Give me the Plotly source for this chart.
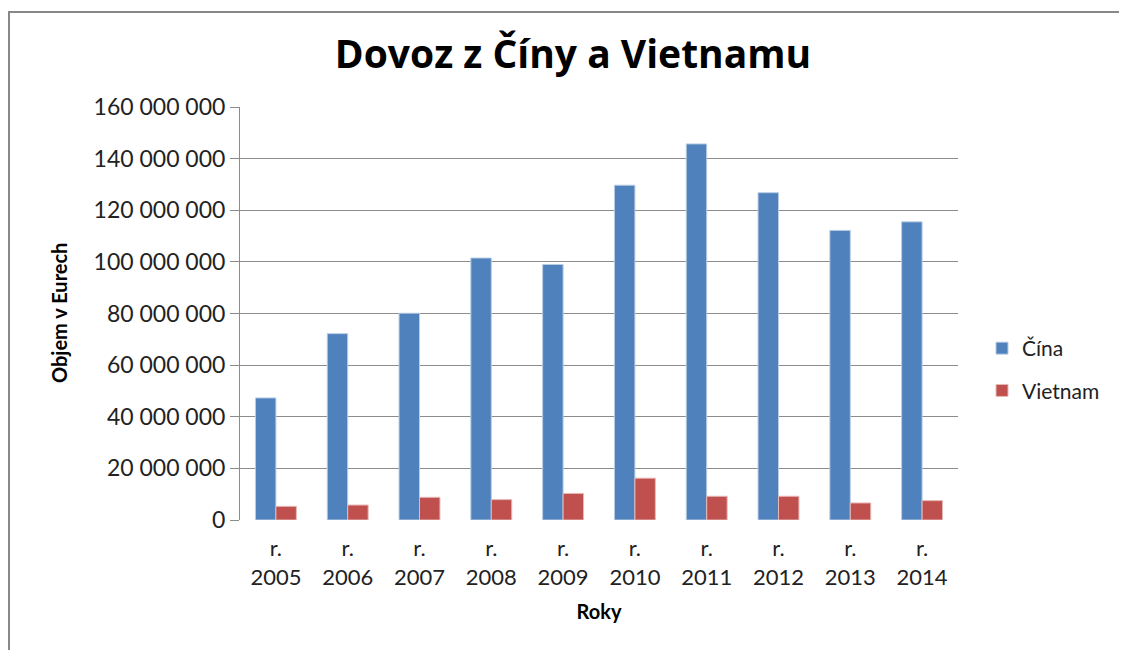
import plotly.graph_objects as go

categories = ["r.<br>2005", "r.<br>2006", "r.<br>2007", "r.<br>2008", "r.<br>2009",
              "r.<br>2010", "r.<br>2011", "r.<br>2012", "r.<br>2013", "r.<br>2014"]
cina = [47_300_000, 72_200_000, 80_100_000, 101_500_000, 99_000_000,
        129_700_000, 145_700_000, 126_800_000, 112_200_000, 115_500_000]
vietnam = [5_300_000, 5_800_000, 8_800_000, 7_900_000, 10_300_000,
           16_200_000, 9_200_000, 9_200_000, 6_600_000, 7_500_000]
y_ticks = [0, 20_000_000, 40_000_000, 60_000_000, 80_000_000,
           100_000_000, 120_000_000, 140_000_000, 160_000_000]
y_ticktext = ["{:,}".format(v).replace(",", " ") for v in y_ticks]

FONT = "Lato"
# page body has an 8px margin; figure is sized to fit the window
W, H = 1119, 642
L, R, T, B = 232, 169, 99, 130
pw, ph = W - L - R, H - T - B

fig = go.Figure()
fig.add_trace(go.Bar(name="Čína", x=categories, y=cina, legendgroup="a",
                     marker=dict(color="#4F81BD", line=dict(color="#B9CDE5", width=1))))
fig.add_trace(go.Bar(name="Vietnam", x=categories, y=vietnam, legendgroup="b",
                     marker=dict(color="#C0504D", line=dict(color="#E6B9B8", width=1))))

def px_x(p):
    return (p - L) / pw

def px_y(p):
    return (H - B - p) / ph

fig.update_layout(
    width=W, height=H,
    margin=dict(l=L, r=R, t=T, b=B),
    paper_bgcolor="white", plot_bgcolor="white",
    barmode="group", bargap=0.43, bargroupgap=0,
    font=dict(family=FONT, color="#222222"),
    title=dict(text="<b>Dovoz z Číny a Vietnamu</b>", x=565 / W, xanchor="center",
               y=1 - 46 / H, yanchor="middle",
               font=dict(size=39, color="black", family="Open Sans")),
    xaxis=dict(showgrid=False, showline=False, ticks="",
               tickfont=dict(size=22, color="#222222"), ticklabelstandoff=13,
               title=dict(text="<b>Roky</b>", font=dict(size=20, color="black"), standoff=16)),
    yaxis=dict(range=[0, 160_000_000], tickvals=y_ticks, ticktext=y_ticktext,
               showgrid=True, gridcolor="#8C8C8C", gridwidth=1,
               showline=True, linecolor="#8C8C8C", linewidth=1,
               ticks="outside", ticklen=9, tickcolor="#8C8C8C",
               tickfont=dict(size=23, color="#222222"), zeroline=False),
    annotations=[dict(text="<b>Objem v Eurech</b>", xref="paper", yref="paper",
                      x=px_x(51), y=px_y(305), xanchor="center", yanchor="middle",
                      textangle=-90, showarrow=False,
                      font=dict(size=20, color="black", family=FONT))],
    legend=dict(x=px_x(974), y=px_y(320), xanchor="left", yanchor="top",
                font=dict(size=21, color="#222222"), tracegroupgap=12,
                itemwidth=30, bgcolor="rgba(0,0,0,0)"),
    shapes=[dict(type="rect", xref="paper", yref="paper",
                 x0=px_x(1), x1=px_x(1140), y0=px_y(665), y1=px_y(4),
                 line=dict(color="#888888", width=2), fillcolor="rgba(0,0,0,0)", layer="below")],
)

fig.write_html("out.html")
